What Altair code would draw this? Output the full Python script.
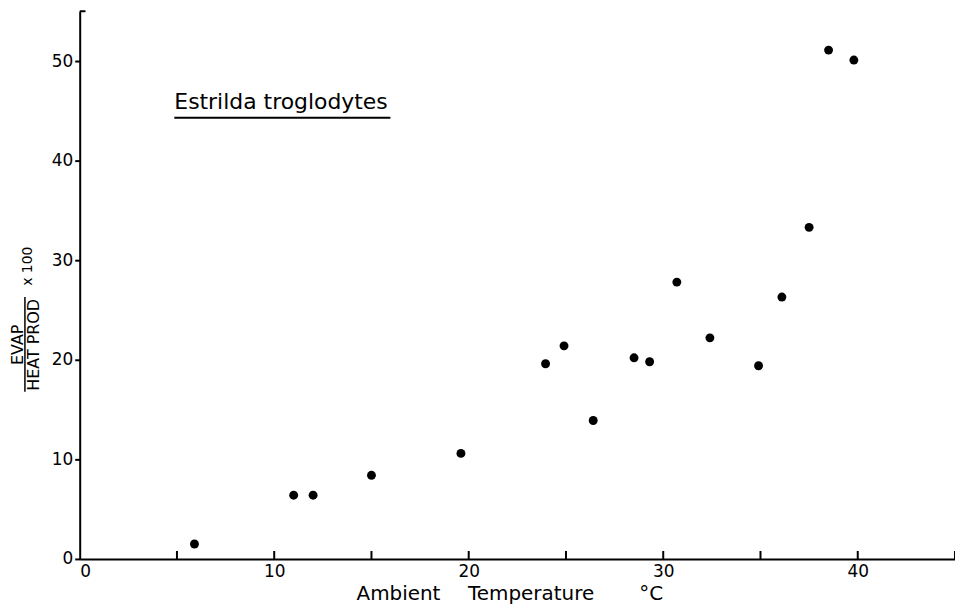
import altair as alt
import pandas as pd

# Data
temp = [5.9, 11.0, 12.0, 15.0, 19.6, 23.95, 24.9, 26.4, 28.5, 29.3, 30.7, 32.4,
        34.9, 36.1, 37.5, 38.5, 39.8]
ratio = [1.5, 6.4, 6.4, 8.4, 10.6, 19.6, 21.4, 13.9, 20.2, 19.8, 27.8, 22.2,
         19.4, 26.3, 33.3, 51.1, 50.1]
x_label_values = [0, 10, 20, 30, 40]
y_label_values = [0, 10, 20, 30, 40, 50]
x_tick_marks = [5, 10, 15, 20, 25, 30, 35, 40, 45]

FONT = "DejaVu Sans"

df = pd.DataFrame({"temp": temp, "ratio": ratio})
ticks_df = pd.DataFrame({"t": x_tick_marks})
one = pd.DataFrame({"a": [0]})

xs = alt.Scale(domain=[0, 45], nice=False)
ys = alt.Scale(domain=[0, 55], nice=False)
xaxis = alt.Axis(values=x_label_values, title=None, tickSize=0,
                 labelPadding=5, grid=False)
yaxis = alt.Axis(values=y_label_values, title=None, tickSize=5,
                 labelPadding=2, grid=False)

points = alt.Chart(df).mark_circle(size=80, color="black", opacity=1).encode(
    x=alt.X("temp:Q", scale=xs, axis=xaxis),
    y=alt.Y("ratio:Q", scale=ys, axis=yaxis),
)

# inward ticks on x axis
xticks = alt.Chart(ticks_df).mark_rule(color="black", strokeWidth=2).encode(
    x=alt.X("t:Q", scale=xs, axis=xaxis),
    y=alt.YDatum(0, axis=yaxis),
    y2=alt.Y2Datum(0.8),
)

# inward tick at the top end of y axis
ytop = alt.Chart(one).mark_rule(color="black", strokeWidth=2).encode(
    x=alt.XDatum(0, axis=xaxis),
    x2=alt.X2Datum(0.3),
    y=alt.YDatum(55, axis=yaxis),
)

title = alt.Chart(one).mark_text(
    text="Estrilda troglodytes", font=FONT, fontSize=22, align="left",
    baseline="alphabetic", color="black"
).encode(x=alt.value(95), y=alt.value(98))

title_ul = alt.Chart(one).mark_rule(color="black", strokeWidth=2).encode(
    x=alt.value(95), x2=alt.value(312), y=alt.value(107)
)

xt1 = alt.Chart(one).mark_text(text="Ambient", font=FONT, fontSize=20,
                               align="left", baseline="alphabetic",
                               color="black").encode(x=alt.value(278), y=alt.value(591))
xt2 = alt.Chart(one).mark_text(text="Temperature", font=FONT, fontSize=20,
                               align="left", baseline="alphabetic",
                               color="black").encode(x=alt.value(390), y=alt.value(591))
xt3 = alt.Chart(one).mark_text(text="°C", font=FONT, fontSize=20,
                               align="left", baseline="alphabetic",
                               color="black").encode(x=alt.value(562), y=alt.value(591))

evap = alt.Chart(one).mark_text(text="EVAP", font=FONT, fontSize=16, angle=270,
                                align="center", baseline="middle",
                                color="black").encode(x=alt.value(-62), y=alt.value(335))
heat = alt.Chart(one).mark_text(text="HEAT PROD", font=FONT, fontSize=16, angle=270,
                                align="center", baseline="middle",
                                color="black").encode(x=alt.value(-46), y=alt.value(335))
frac = alt.Chart(one).mark_rule(color="black", strokeWidth=1.5).encode(
    x=alt.value(-55), y=alt.value(287), y2=alt.value(382)
)
x100 = alt.Chart(one).mark_text(text="x 100", font=FONT, fontSize=14, angle=270,
                                align="center", baseline="middle",
                                color="black").encode(x=alt.value(-52), y=alt.value(256))

chart = alt.layer(
    points, xticks, ytop, title, title_ul, xt1, xt2, xt3, evap, heat, frac, x100
).properties(
    width=879, height=550,
    padding={"left": 72, "top": 2, "right": 0, "bottom": 45},
    autosize=alt.AutoSizeParams(type="none"),
    background="white",
).configure_view(stroke=None).configure_axis(
    domainColor="black", domainWidth=2, tickColor="black", tickWidth=2,
    labelFont=FONT, labelFontSize=17, labelColor="black", grid=False,
)

chart.save("out.html", embed_options={"renderer": "svg", "actions": False})
